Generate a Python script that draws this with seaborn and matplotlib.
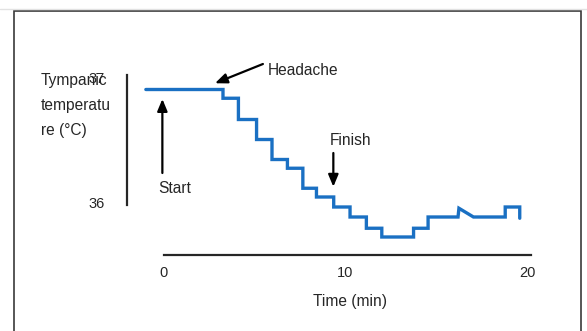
import matplotlib
matplotlib.use("Agg")
import matplotlib.pyplot as plt
from matplotlib.patches import Rectangle
from matplotlib.lines import Line2D
import pandas as pd
import seaborn as sns

# Tympanic temperature trace (vertices of the recorded step trace)
minutes = [-1.0, 3.25, 3.25, 4.1, 4.1, 5.1, 5.1, 5.95, 5.95, 6.8, 6.8,
           7.65, 7.65, 8.4, 8.4, 9.35, 9.35, 10.25, 10.25, 11.15, 11.15,
           12.0, 12.0, 13.75, 13.75, 14.55, 14.55, 16.2, 16.25, 17.05,
           18.8, 18.8, 19.6, 19.6]
temperature = [36.90, 36.90, 36.83, 36.83, 36.66, 36.66, 36.50, 36.50, 36.34,
               36.34, 36.27, 36.27, 36.11, 36.11, 36.04, 36.04, 35.96, 35.96,
               35.88, 35.88, 35.79, 35.79, 35.72, 35.72, 35.79, 35.79, 35.88,
               35.88, 35.95, 35.88, 35.88, 35.96, 35.96, 35.87]

x_ticks = [0, 10, 20]
y_ticks = [36, 37]

# Event markers: (label, text position, arrow tail, arrow head)
events = [
    ("Start",    (-0.31, 36.074), (-0.09, 36.232), (-0.09, 36.824)),
    ("Headache", (5.73, 37.016),  (5.45, 37.104),  (2.81, 36.950)),
    ("Finish",   (9.15, 36.456),  (9.33, 36.392),  (9.33, 36.122)),
]

sns.set_theme(style="white")
plt.rcParams["font.family"] = ["Liberation Sans", "DejaVu Sans"]

W, H = 587, 331
fig = plt.figure(figsize=(W / 100, H / 100), dpi=100)

# axes box in pixels: left 127, right 531, top 60, bottom 255
ax = fig.add_axes([127 / W, 1 - 255 / H, (531 - 127) / W, (255 - 60) / H])

df = pd.DataFrame({"Time (min)": minutes, "temp": temperature})
sns.lineplot(data=df, x="Time (min)", y="temp", sort=False, estimator=None,
             color="#1a70c3", linewidth=2.4, ax=ax, solid_joinstyle="miter")

ax.set_xlim(-37 / 18.15, 367 / 18.15)
ax.set_ylim(37 - 178 / 125, 37 + 17 / 125)

for side in ("top", "right"):
    ax.spines[side].set_visible(False)
ax.spines["bottom"].set_bounds(0, 367 / 18.15)
ax.spines["left"].set_bounds(37 - 128 / 125, 37 + 2 / 125)
for side in ("bottom", "left"):
    ax.spines[side].set_color("#262626")
    ax.spines[side].set_linewidth(1.6)

ax.set_xticks(x_ticks)
ax.set_yticks(y_ticks)
ax.tick_params(axis="x", length=0, pad=8, labelsize=10.5, labelcolor="#262626")
ax.tick_params(axis="y", length=0, pad=16, labelsize=10.5, labelcolor="#262626")

ax.set_xlabel("Time (min)", fontsize=11.2, color="#262626")
ax.xaxis.set_label_coords((350 - 127) / 404, (255 - 306) / 195)
ax.xaxis.label.set_va("baseline")

ax.set_ylabel("Tympanic\ntemperatu\nre (°C)", rotation=0, fontsize=11.2,
              color="#262626", ha="left", va="top", linespacing=1.85)
ax.yaxis.set_label_coords((41 - 127) / 404, (255 - 73) / 195)

for label, txt, tail, head in events:
    ax.text(txt[0], txt[1], label, fontsize=11.2, color="#262626",
            ha="left", va="baseline")
    ax.annotate("", xy=head, xytext=tail,
                arrowprops=dict(arrowstyle="-|>,head_length=0.6,head_width=0.25",
                                color="black", lw=1.6, shrinkA=0, shrinkB=0))

# surrounding frame
fig.add_artist(Line2D([0, 1], [1 - 9 / H, 1 - 9 / H], transform=fig.transFigure,
                      color="#e2e2e2", lw=1))
fig.add_artist(Rectangle((13.5 / W, -0.1), (580.5 - 13.5) / W, 1.1 - 10.5 / H,
                         transform=fig.transFigure, fill=False,
                         edgecolor="#3a3a3a", lw=1.2))

fig.savefig("out.png", dpi=100)
